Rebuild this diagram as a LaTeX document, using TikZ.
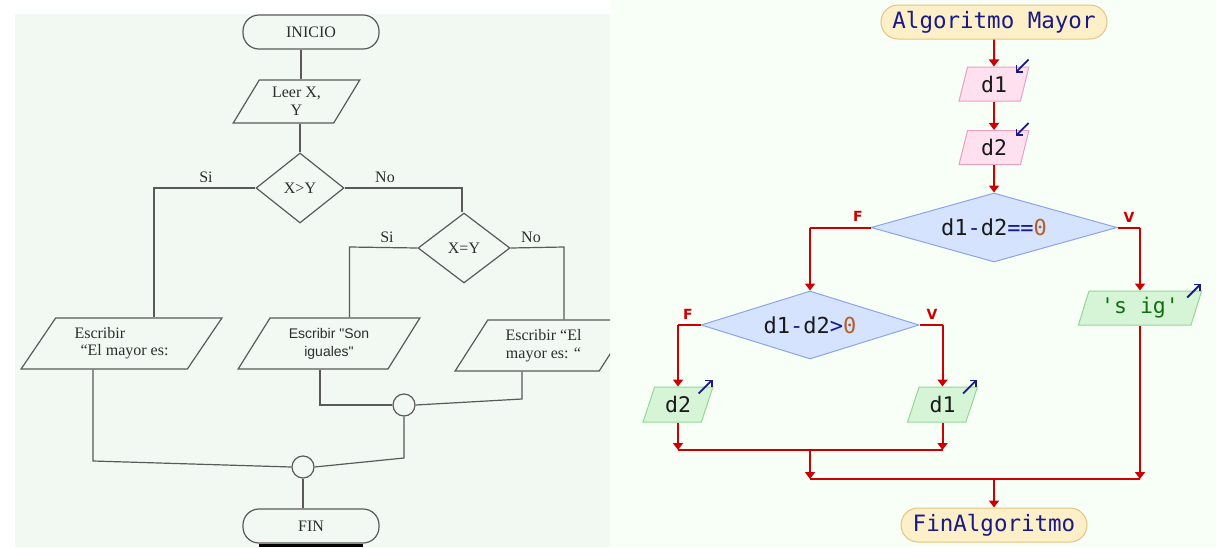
\documentclass[tikz,border=0pt]{standalone}
\usepackage{fontspec}
\setmainfont{Liberation Serif}
\newfontfamily\monof[Ligatures=TeXOff]{DejaVu Sans Mono}
\newfontfamily\labf{DejaVu Sans}
\newfontfamily\arialf{Liberation Sans}
\usetikzlibrary{shapes.geometric,arrows.meta}
\definecolor{lbg}{RGB}{242,249,242}
\definecolor{rbg}{RGB}{247,255,247}
\definecolor{lgray}{RGB}{90,90,90}
\definecolor{ltext}{RGB}{45,45,45}
\definecolor{redl}{RGB}{204,0,0}
\definecolor{navy}{RGB}{25,25,135}
\definecolor{termfill}{RGB}{253,239,200}
\definecolor{termdraw}{RGB}{228,196,130}
\definecolor{pinkfill}{RGB}{255,224,238}
\definecolor{pinkdraw}{RGB}{232,160,196}
\definecolor{bluefill}{RGB}{214,227,255}
\definecolor{bluedraw}{RGB}{140,165,228}
\definecolor{grnfill}{RGB}{214,245,214}
\definecolor{grndraw}{RGB}{150,215,150}
\definecolor{grntext}{RGB}{16,112,16}
\definecolor{brownz}{RGB}{180,95,40}
\definecolor{dtext}{RGB}{25,25,25}
\begin{document}
\begin{tikzpicture}[x=1pt,y=-1pt,
  lline/.style={draw=lgray, line width=1.2pt},
  lshape/.style={draw=lgray, line width=1.2pt, inner sep=0pt, text=ltext, font=\fontsize{16}{18}\selectfont, align=center},
  lterm/.style={lshape, rectangle, rounded corners=16pt, minimum width=136pt, minimum height=34pt},
  lpara/.style={lshape, trapezium, trapezium stretches=true},
  ldia/.style={lshape, diamond},
  lcirc/.style={draw=lgray, line width=1.2pt, circle, minimum size=22pt, inner sep=0pt},
  llab/.style={text=ltext, font=\fontsize{16}{18}\selectfont, inner sep=0pt},
  flow/.style={draw=redl, line width=2pt, -{Triangle[width=10pt,length=7pt]}},
  rline/.style={draw=redl, line width=2pt},
  rterm/.style={rectangle, rounded corners=17pt, fill=termfill, draw=termdraw, line width=1pt, text=navy, font=\monof\fontsize{22.5}{26}\selectfont, inner sep=0pt, minimum height=34pt},
  rpara/.style={trapezium, trapezium stretches=true, line width=1pt, inner sep=0pt, minimum height=34pt, minimum width=70pt, font=\monof\fontsize{21.5}{24}\selectfont},
  inpara/.style={rpara, fill=pinkfill, draw=pinkdraw, text=dtext, trapezium left angle=76, trapezium right angle=104},
  outpara/.style={rpara, fill=grnfill, draw=grndraw, text=dtext, trapezium left angle=69, trapezium right angle=111},
  rdia/.style={diamond, fill=bluefill, draw=bluedraw, line width=1pt, inner sep=0pt, text=dtext, font=\monof\fontsize{22}{26}\selectfont},
  vf/.style={text=redl, font=\labf\bfseries\fontsize{14}{16}\selectfont, inner sep=0pt},
  ioarrow/.style={draw=navy, line width=1.8pt, -{Straight Barb[length=4.5pt,width=9pt]}}
]
\useasboundingbox (0,0) rectangle (1216,547);
\fill[white] (0,0) rectangle (1216,547);
\fill[lbg] (15,14) rectangle (610,547);
\fill[rbg] (610,0) rectangle (1216,547);

% ---------------- left chart ----------------
\begin{scope}
\clip (15,14) rectangle (610,547);
\node[lterm] (ini) at (311,32) {INICIO};
\node[lpara, trapezium left angle=59, trapezium right angle=121, minimum width=127pt, minimum height=43pt] (leer) at (296.5,101.5) {Leer X,\\Y};
\node[ldia, aspect=1.25, minimum width=88pt, minimum height=70pt] (dxy) at (300,188) {X>Y};
\node[ldia, aspect=1.3, minimum width=92pt, minimum height=70pt] (dxe) at (464,248) {X=Y};
\node[lpara, align=left, trapezium left angle=52, trapezium right angle=128, minimum width=201pt, minimum height=51pt] (p1) at (121.5,343.5) {Escribir\\[-1pt]\hspace*{6pt}“El mayor es:};
\node[lpara, trapezium left angle=55, trapezium right angle=125, minimum width=182pt, minimum height=51pt, font=\arialf\fontsize{14}{18}\selectfont] (p2) at (329,343.5) {Escribir "Son\\iguales"};
\node[lpara, trapezium left angle=55.6, trapezium right angle=124.4, minimum width=177pt, minimum height=51pt] (p3) at (543.5,345.5) {Escribir “El\\mayor es: “};
\node[lcirc] (c1) at (404,405) {};
\node[lcirc] (c2) at (303,467) {};
\node[lterm] (fin) at (311,526) {FIN};
\draw[draw=black, line width=2.6pt] ([xshift=-52pt,yshift=-2pt]fin.south) -- ([xshift=52pt,yshift=-2pt]fin.south);

\node[llab] (si1) at (206,177) {Si};
\node[llab] (no1) at (385,177) {No};
\node[llab] (si2) at (387,237) {Si};
\node[llab] (no2) at (531,237) {No};

\coordinate (a1) at (154,188);
\coordinate (a2) at (462,188);
\coordinate (a3) at (349.5,247);
\coordinate (a4) at (564,247);
\coordinate (b1) at (93,461);
\coordinate (b2) at (320,405);
\coordinate (b3) at (522,399);
\coordinate (b4) at (404,458);

\draw[lline] ([xshift=-10pt]ini.south) -- ([xshift=-10pt]ini.south |- leer.north);
\draw[lline] (dxy.north |- leer.south) -- (dxy.north);
\draw[lline] (dxy.west) -- (a1) -- (a1 |- p1.north);
\draw[lline] (dxy.east) -- (a2) -- (a2 |- dxe.north);
\draw[lline] (dxe.west) -- (a3) -- (a3 |- p2.north);
\draw[lline] (dxe.east) -- (a4) -- (a4 |- p3.north);
\draw[lline] (b1 |- p1.south) -- (b1) -- (c2.west);
\draw[lline] (b2 |- p2.south) -- (b2) -- (c1.west);
\draw[lline] (b3 |- p3.south) -- (b3) -- (c1.east);
\draw[lline] (c1.south) -- (b4) -- (c2.east);
\draw[lline] (c2.south) -- (c2.south |- fin.north);
\end{scope}

% ---------------- right chart ----------------
\node[rterm, minimum width=226pt] (start) at (994,22) {Algoritmo Mayor};
\node[inpara] (in1) at (994,84) {d1};
\node[inpara] (in2) at (994,147.5) {d2};
\node[rdia, aspect=3.5, minimum width=246pt, minimum height=69pt] (dia1) at (994,227.5) {d1\textcolor{navy}{-}d2\textcolor{navy}{==}\textcolor{brownz}{0}};
\node[rdia, aspect=3.2, minimum width=218pt, minimum height=68pt] (dia2) at (810,325) {d1\textcolor{navy}{-}d2\textcolor{navy}{>}\textcolor{brownz}{0}};
\node[outpara, minimum width=124pt, text=grntext] (sig) at (1140,308) {'s ig'};
\node[outpara, minimum height=35pt] (out2) at (678,404.5) {d2};
\node[outpara, minimum height=35pt] (out1) at (942.5,404.5) {d1};
\node[rterm, minimum width=186pt] (fin2) at (994,525) {FinAlgoritmo};

\node[vf] (f1) at (858,216) {F};
\node[vf] (v1) at (1129,217) {V};
\node[vf] (f2) at (688,314) {F};
\node[vf] (v2) at (932,314) {V};

\coordinate (m1) at (810,450);
\coordinate (m2) at (994,479);

\draw[flow] (start.south) -- (in1.north);
\draw[flow] (in1.south) -- (in2.north);
\draw[flow] (in2.south) -- (dia1.north);
\draw[rline] (dia1.west) -- (dia2.north |- dia1.west);
\draw[flow] (dia2.north |- dia1.west) -- (dia2.north);
\draw[rline] (dia1.east) -- (sig.north |- dia1.east);
\draw[flow] (sig.north |- dia1.east) -- (sig.north);
\draw[rline] (dia2.west) -- (out2.north |- dia2.west);
\draw[flow] (out2.north |- dia2.west) -- (out2.north);
\draw[rline] (dia2.east) -- (out1.north |- dia2.east);
\draw[flow] (out1.north |- dia2.east) -- (out1.north);
\draw[flow] (out2.south) -- (out2.south |- m1);
\draw[flow] (out1.south) -- (out1.south |- m1);
\draw[rline] (out2.south |- m1) -- (out1.south |- m1);
\draw[flow] (m1) -- (m1 |- m2);
\draw[flow] (sig.south) -- (sig.south |- m2);
\draw[rline] (m1 |- m2) -- (sig.south |- m2);
\draw[flow] (m2) -- (fin2.north);

\draw[ioarrow] ([xshift=-1pt,yshift=7pt]in1.top right corner) -- ++(-13,13);
\draw[ioarrow] ([xshift=-1pt,yshift=7pt]in2.top right corner) -- ++(-13,13);
\draw[ioarrow] ([xshift=-15pt,yshift=-7pt]out2.top right corner) -- ++(14,-14);
\draw[ioarrow] ([xshift=-15pt,yshift=-7pt]out1.top right corner) -- ++(14,-14);
\draw[ioarrow] ([xshift=-15pt,yshift=-7pt]sig.top right corner) -- ++(14,-14);
\end{tikzpicture}
\end{document}
